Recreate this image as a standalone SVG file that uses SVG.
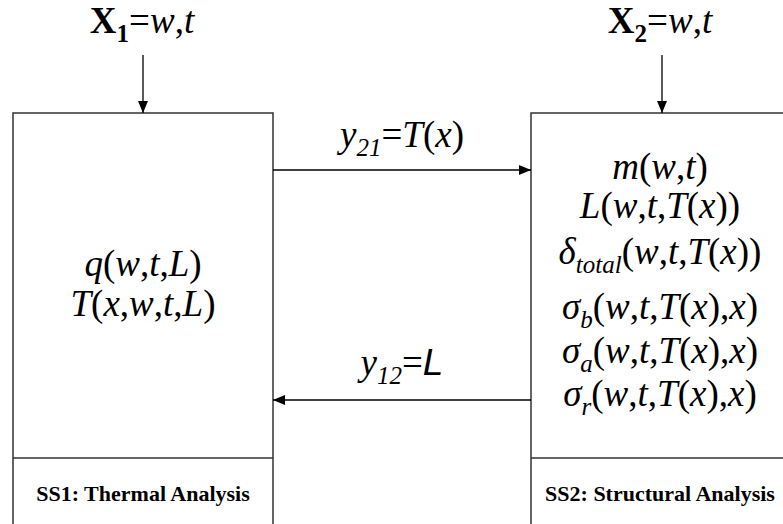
<svg xmlns="http://www.w3.org/2000/svg" width="783" height="524" viewBox="0 0 783 524">
<style>
.box{fill:#fff;stroke:#333;stroke-width:1.5}
.div{stroke:#333;stroke-width:1.5}
.ln{stroke:#000;stroke-width:1.3;fill:none}
.m{font-family:'Liberation Serif','Times New Roman',Times,serif;font-size:37px;font-style:italic;fill:#000}
.n{font-style:normal}
.b{font-style:normal;font-weight:bold}
.sub{font-size:25px}
.sans{font-family:'Liberation Sans',Arial,sans-serif}
.cap{font-family:'Liberation Serif','Times New Roman',Times,serif;font-size:22px;font-weight:bold;fill:#000}
</style>
<defs>
<marker id="ah" viewBox="0 0 12 10" refX="12" refY="5" markerWidth="12" markerHeight="10" markerUnits="userSpaceOnUse" orient="auto">
<path d="M0,0 L12,5 L0,10 Z" fill="#000"/>
</marker>
</defs>
<g id="ss1">
<rect class="box" x="13" y="113" width="260" height="420"/>
<line class="div" x1="13" y1="458" x2="273" y2="458"/>
<text class="m" x="143" y="276" text-anchor="middle">q<tspan class="n">(</tspan>w<tspan class="n">,</tspan>t<tspan class="n">,</tspan>L<tspan class="n">)</tspan></text>
<text class="m" x="143" y="316" text-anchor="middle">T<tspan class="n">(</tspan>x<tspan class="n">,</tspan>w<tspan class="n">,</tspan>t<tspan class="n">,</tspan>L<tspan class="n">)</tspan></text>
<text class="cap" x="143" y="501" text-anchor="middle">SS1: Thermal Analysis</text>
</g>
<g id="ss2">
<rect class="box" x="531" y="113" width="260" height="420"/>
<line class="div" x1="531" y1="458" x2="783" y2="458"/>
<text class="m" x="660" y="179" text-anchor="middle">m<tspan class="n">(</tspan>w<tspan class="n">,</tspan>t<tspan class="n">)</tspan></text>
<text class="m" x="660" y="218" text-anchor="middle">L<tspan class="n">(</tspan>w<tspan class="n">,</tspan>t<tspan class="n">,</tspan>T<tspan class="n">(</tspan>x<tspan class="n">))</tspan></text>
<text class="m" x="660" y="264" text-anchor="middle">δ<tspan class="sub" dy="9">total</tspan><tspan class="n" dy="-9">(</tspan>w<tspan class="n">,</tspan>t<tspan class="n">,</tspan>T<tspan class="n">(</tspan>x<tspan class="n">))</tspan></text>
<text class="m" x="660" y="319" text-anchor="middle">σ<tspan class="sub" dy="9">b</tspan><tspan class="n" dy="-9">(</tspan>w<tspan class="n">,</tspan>t<tspan class="n">,</tspan>T<tspan class="n">(</tspan>x<tspan class="n">),</tspan>x<tspan class="n">)</tspan></text>
<text class="m" x="660" y="363" text-anchor="middle">σ<tspan class="sub" dy="9">a</tspan><tspan class="n" dy="-9">(</tspan>w<tspan class="n">,</tspan>t<tspan class="n">,</tspan>T<tspan class="n">(</tspan>x<tspan class="n">),</tspan>x<tspan class="n">)</tspan></text>
<text class="m" x="660" y="406" text-anchor="middle">σ<tspan class="sub" dy="9">r</tspan><tspan class="n" dy="-9">(</tspan>w<tspan class="n">,</tspan>t<tspan class="n">,</tspan>T<tspan class="n">(</tspan>x<tspan class="n">),</tspan>x<tspan class="n">)</tspan></text>
<text class="cap" x="660" y="501" text-anchor="middle">SS2: Structural Analysis</text>
</g>
<g id="inputs">
<text class="m" x="142" y="33" text-anchor="middle"><tspan class="b">X</tspan><tspan class="b sub" dy="9">1</tspan><tspan class="n" dy="-9">=</tspan>w<tspan class="n">,</tspan>t</text>
<text class="m" x="660" y="33" text-anchor="middle"><tspan class="b">X</tspan><tspan class="b sub" dy="9">2</tspan><tspan class="n" dy="-9">=</tspan>w<tspan class="n">,</tspan>t</text>
</g>
<g id="connectors">
<line class="ln" x1="143" y1="55" x2="143" y2="113" marker-end="url(#ah)"/>
<line class="ln" x1="662" y1="55" x2="662" y2="113" marker-end="url(#ah)"/>
<line class="ln" x1="273" y1="170" x2="531" y2="170" marker-end="url(#ah)"/>
<line class="ln" x1="531" y1="400" x2="273" y2="400" marker-end="url(#ah)"/>
<text class="m" x="402" y="147" text-anchor="middle">y<tspan class="sub" dy="9">21</tspan><tspan class="n" dy="-9">=</tspan>T<tspan class="n">(</tspan>x<tspan class="n">)</tspan></text>
<text class="m" x="402" y="375" text-anchor="middle">y<tspan class="sub" dy="9">12</tspan><tspan class="n" dy="-9">=</tspan><tspan class="sans">L</tspan></text>
</g>
</svg>
